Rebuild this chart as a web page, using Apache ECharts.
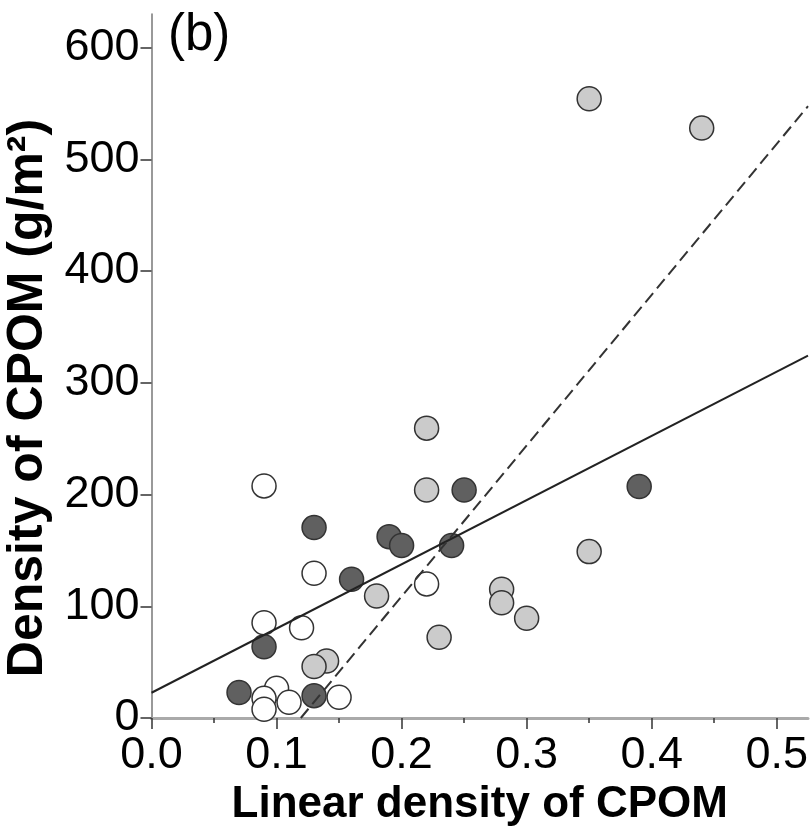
<!DOCTYPE html>
<html>
<head>
<meta charset="utf-8">
<script src="https://cdn.jsdelivr.net/npm/echarts@6/dist/echarts.min.js"></script>
<style>
html,body{margin:0;padding:0;background:#fff;}
#chart{width:811px;height:837px;}
</style>
</head>
<body>
<div id="chart"></div>
<script>
// ---- data ----
const whitePts = [
  [0.09, 207.7], [0.13, 129.5], [0.22, 120.0], [0.09, 85.3], [0.12, 80.8],
  [0.10, 26.6], [0.09, 17.6], [0.09, 7.8], [0.11, 14.1], [0.15, 18.5]
];
const lightPts = [
  [0.35, 554.2], [0.44, 527.9], [0.22, 259.4], [0.22, 204.1], [0.35, 148.9],
  [0.28, 115.2], [0.28, 103.2], [0.30, 89.3], [0.23, 72.3], [0.18, 109.2],
  [0.14, 51.0], [0.13, 46.1]
];
const darkPts = [
  [0.39, 207.1], [0.25, 204.1], [0.19, 162.3], [0.20, 154.3], [0.24, 154.3],
  [0.13, 170.4], [0.16, 124.2], [0.09, 63.8], [0.07, 22.8], [0.13, 20.0]
];
const solidFit = [[0, 22.6], [0.525, 324.3]];
const dashedFit = [[0.1194, 0], [0.525, 547.5]];
const xTicks = [0, 0.1, 0.2, 0.3, 0.4, 0.5];
const xMinorTicks = [0.05, 0.15, 0.25, 0.35, 0.45];
const yTicks = [0, 100, 200, 300, 400, 500, 600];
const xName = 'Linear density of CPOM';
const yName = 'Density of CPOM (g/m\u00B2)';
const panelLabel = '(b)';

const FONT = '"Liberation Sans", Arial, Helvetica, sans-serif';
const chart = echarts.init(document.getElementById('chart'), null, {renderer: 'canvas'});

const ptStyle = (fill) => ({color: fill, borderColor: '#333', borderWidth: 1.5, opacity: 1});

chart.setOption({
  backgroundColor: '#fff',
  animation: false,
  title: {
    text: panelLabel, left: 163, top: 5,
    textStyle: {fontFamily: FONT, fontSize: 51, fontWeight: 'normal', color: '#000'}
  },
  grid: {left: 151.5, right: 3, top: 14, bottom: 119, containLabel: false, outerBoundsMode: 'none'},
  xAxis: [{
    type: 'value', min: 0, max: 0.525,
    name: xName, nameLocation: 'middle', nameGap: 40,
    nameTextStyle: {fontFamily: FONT, fontSize: 44, fontWeight: 'bold', color: '#000'},
    axisLine: {show: true, lineStyle: {color: '#aaa', width: 3}},
    axisTick: {show: true, customValues: xTicks, length: 11, lineStyle: {color: '#333', width: 1.5}},
    axisLabel: {customValues: xTicks, margin: 15, fontFamily: FONT, fontSize: 45, color: '#000',
      formatter: (v) => v.toFixed(1)},
    splitLine: {show: false}
  }, {
    type: 'value', min: 0, max: 0.525, position: 'bottom',
    axisLine: {show: false},
    axisTick: {show: true, customValues: xMinorTicks, length: 5, lineStyle: {color: '#333', width: 1.5}},
    axisLabel: {show: false},
    splitLine: {show: false}
  }],
  yAxis: {
    type: 'value', min: 0, max: 630,
    name: yName, nameLocation: 'middle', nameGap: 97,
    nameTextStyle: {fontFamily: FONT, fontSize: 50, fontWeight: 'bold', color: '#000', padding: [0, 64, 0, 0]},
    axisLine: {show: true, lineStyle: {color: '#777', width: 1.5}},
    axisTick: {show: true, customValues: yTicks, length: 11, lineStyle: {color: '#333', width: 1.5}},
    axisLabel: {customValues: yTicks, margin: 12, fontFamily: FONT, fontSize: 45, color: '#000'},
    splitLine: {show: false}
  },
  series: [
    {type: 'scatter', data: whitePts, symbol: 'circle', symbolSize: 24, itemStyle: ptStyle('#ffffff'), z: 2},
    {type: 'scatter', data: lightPts, symbol: 'circle', symbolSize: 24, itemStyle: ptStyle('#cbcbcb'), z: 2},
    {type: 'scatter', data: darkPts, symbol: 'circle', symbolSize: 24, itemStyle: ptStyle('#606060'), z: 2},
    {type: 'line', data: solidFit, symbol: 'none', z: 5,
      lineStyle: {color: '#222', width: 2, type: 'solid'}},
    {type: 'line', data: dashedFit, symbol: 'none', z: 5,
      lineStyle: {color: '#333', width: 2, type: [12, 6]}}
  ]
});
</script>
</body>
</html>
